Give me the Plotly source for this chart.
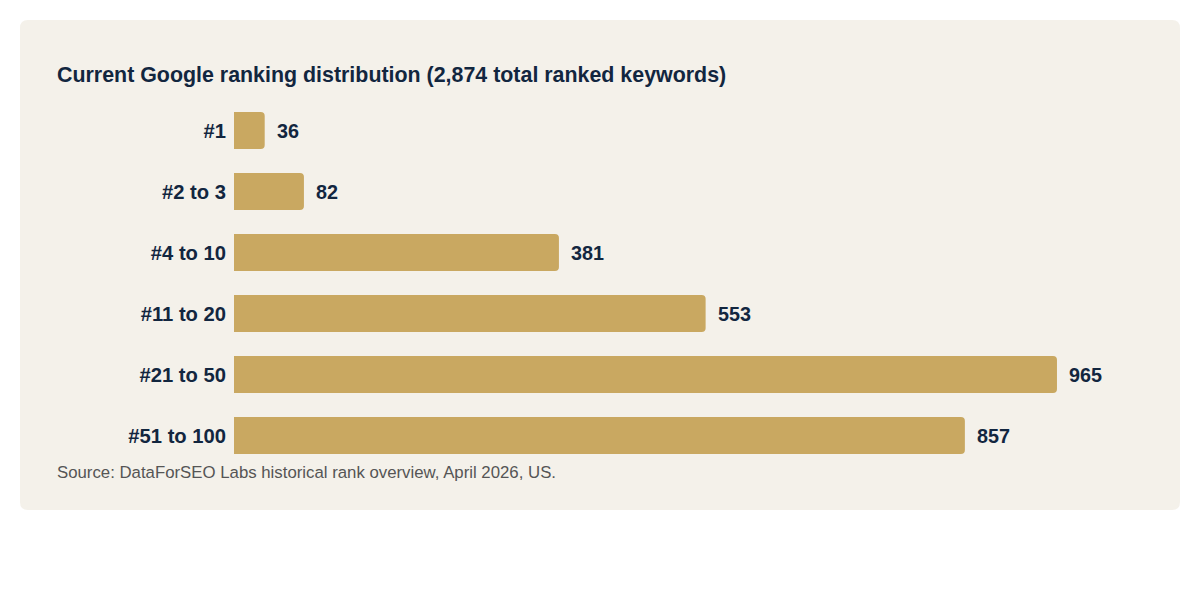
import plotly.graph_objects as go

categories = ["#1", "#2 to 3", "#4 to 10", "#11 to 20", "#21 to 50", "#51 to 100"]
values = [36, 82, 381, 553, 965, 857]
title_text = "Current Google ranking distribution (2,874 total ranked keywords)"
source_text = "Source: DataForSEO Labs historical rank overview, April 2026, US."

OFF = 8  # page body margin
W, H = 1200 - OFF, 600 - OFF
L, T = 234 - OFF, 100 - OFF
XMAX = 1060
PW = XMAX * (1057 - 234) / 965.0
R = W - L - PW
PH = 366
B = H - T - PH

NAVY = "#12263F"
GOLD = "#C9A861"
CARD = "#F4F1EA"
FONT = "Liberation Sans, Arial, sans-serif"


def px_x(px):
    return (px - OFF - L) / PW


def px_y(py):
    return (T + PH - (py - OFF)) / PH


def rounded_rect(x0, y0, x1, y1, r):
    rx = r / PW
    ry = r / PH
    a, b, c, d = px_x(x0), px_x(x1), px_y(y0), px_y(y1)
    return (f"M {a+rx},{c} L {b-rx},{c} Q {b},{c} {b},{c-ry} "
            f"L {b},{d+ry} Q {b},{d} {b-rx},{d} L {a+rx},{d} Q {a},{d} {a},{d+ry} "
            f"L {a},{c-ry} Q {a},{c} {a+rx},{c} Z")


fig = go.Figure(go.Bar(
    x=values, y=categories, orientation="h",
    marker=dict(color=GOLD, cornerradius=4, line=dict(width=0)),
    hoverinfo="skip",
))

for v, c in zip(values, categories):
    fig.add_annotation(x=v, y=c, text=f"<b>{v}</b>", showarrow=False,
                       xanchor="left", yanchor="middle", xshift=10,
                       font=dict(family=FONT, size=19.8, color=NAVY))

fig.add_annotation(xref="paper", yref="paper", x=px_x(55), y=px_y(473),
                   text=source_text, showarrow=False, xanchor="left", yanchor="middle",
                   font=dict(family=FONT, size=16.8, color="#555555"))

fig.add_shape(type="path", xref="paper", yref="paper", layer="below",
              path=rounded_rect(20, 20, 1180, 510, 8),
              fillcolor=CARD, line=dict(width=0))

fig.update_layout(
    width=W, height=H,
    margin=dict(l=L, r=R, t=T, b=B, pad=0),
    paper_bgcolor="white", plot_bgcolor="rgba(0,0,0,0)",
    bargap=0.39, showlegend=False,
    title=dict(text=f"<b>{title_text}</b>", x=(57 - OFF) / W, xref="container", xanchor="left",
               y=1 - (75 - OFF) / H, yref="container", yanchor="middle",
               font=dict(family=FONT, size=21.4, color=NAVY)),
    xaxis=dict(range=[0, XMAX], visible=False, fixedrange=True),
    yaxis=dict(autorange="reversed", showgrid=False, zeroline=False, showline=False,
               ticks="", ticklabelstandoff=7,
               tickfont=dict(family=FONT, size=20.2, color=NAVY, weight="bold")),
)

fig.write_html("out.html")
